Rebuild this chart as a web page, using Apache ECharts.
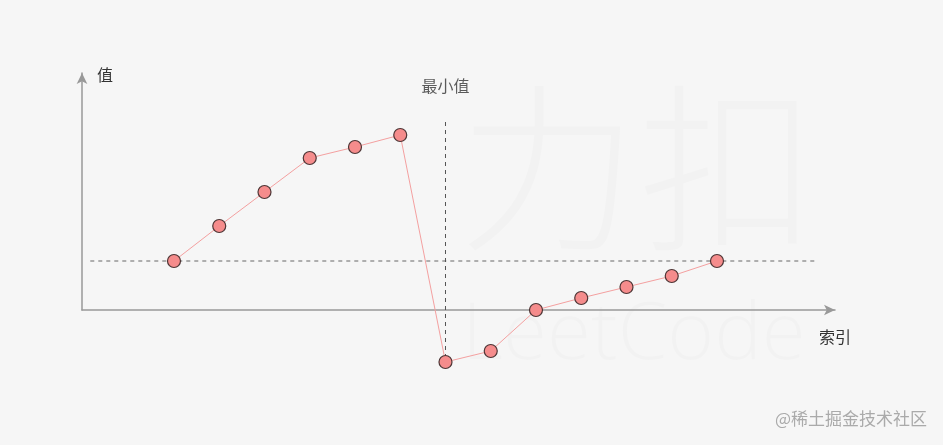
<!DOCTYPE html>
<html>
<head>
<meta charset="utf-8">
<script src="https://cdn.jsdelivr.net/npm/echarts@6/dist/echarts.min.js"></script>
<style>
html,body{margin:0;padding:0;background:#f6f6f6;}
#c{width:943px;height:445px;}
</style>
</head>
<body>
<div id="c"></div>
<script>
// index positions and values
var indices = [1,2,3,4,5,6,7,8,9,10,11,12,13];
var values = [49,84,118,152,163,175,-52,-41,0,12,23,34,49];
var minIndex = 7;
var refValue = 49;
var hLineX = [-0.85, 15.17];
var vLineY = [188, -60];
var xName = '索引';
var yName = '值';
var minLabel = '最小值';

var font = '"Noto Sans CJK SC", sans-serif';
var chart = echarts.init(document.getElementById('c'));
var pts = indices.map(function(x, i){ return [x, values[i]]; });

chart.setOption({
  backgroundColor: '#f6f6f6',
  animation: false,
  graphic: [
    { type:'text', left:458, top:78, z:-10, silent:true,
      style:{ text:'力扣', font:'300 180px ' + font, fill:'rgba(0,0,0,0.014)' } },
    { type:'text', left:462, top:296, z:-10, silent:true,
      style:{ text:'LeetCode', font:'300 80px "Open Sans", sans-serif', fill:'rgba(0,0,0,0.014)' } },
    { type:'text', right:16, top:410, silent:true,
      style:{ text:'@稀土掘金技术社区', font:'17px ' + font, fill:'#aaaaaa' } }
  ],
  grid: { left: 82, right: 108, top: 73, bottom: 135 },
  xAxis: {
    type: 'value', min: -1.033, max: 15.608,
    name: xName,
    nameLocation: 'end', nameGap: 0,
    nameTextStyle: { fontFamily: font, fontSize: 16, color: '#333', align: 'center', verticalAlign: 'top', padding: [19, 0, 0, 0] },
    axisLine: { show: true, onZero: false, symbol: ['none', 'arrow'], symbolSize: [8, 11], lineStyle: { color: '#999', width: 1.5 } },
    axisTick: { show: false }, axisLabel: { show: false }, splitLine: { show: false }
  },
  yAxis: {
    type: 'value', min: 0, max: 237,
    name: yName,
    nameLocation: 'end', nameGap: -2,
    nameTextStyle: { fontFamily: font, fontSize: 16, color: '#333', align: 'left', verticalAlign: 'middle', padding: [0, 0, 0, 15] },
    axisLine: { show: true, onZero: false, symbol: ['none', 'arrow'], symbolSize: [8, 11], lineStyle: { color: '#999', width: 1.5 } },
    axisTick: { show: false }, axisLabel: { show: false }, splitLine: { show: false }
  },
  series: [
    {
      type: 'line', clip: false, silent: true, symbol: 'none',
      data: [[hLineX[0], refValue], [hLineX[1], refValue]],
      lineStyle: { color: '#666', width: 1, type: [4, 4] }, z: 1
    },
    {
      type: 'line', clip: false, silent: true, symbol: 'none',
      data: [[minIndex, vLineY[0]], [minIndex, vLineY[1]]],
      lineStyle: { color: '#555', width: 1, type: [4, 4] }, z: 1
    },
    {
      type: 'scatter', clip: false, silent: true, symbolSize: 0,
      data: [[minIndex, vLineY[0]]],
      label: { show: true, position: 'top', distance: 28, formatter: minLabel, fontFamily: font, fontSize: 16, color: '#333' }
    },
    {
      type: 'line', clip: false, silent: true,
      data: pts,
      symbol: 'circle', symbolSize: 13,
      lineStyle: { color: '#f4a0a0', width: 1 },
      itemStyle: { color: '#f58c8c', borderColor: '#4d3535', borderWidth: 1.2 },
      z: 5
    }
  ]
});
</script>
</body>
</html>
